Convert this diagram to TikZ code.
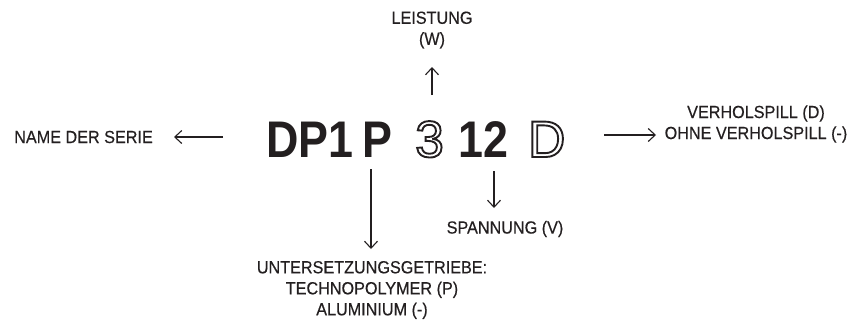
\documentclass[tikz,border=0pt]{standalone}
\usepackage{fontspec}
\setmainfont{Liberation Sans}
\newfontfamily\lblfont[FakeStretch=0.92,FakeBold=0.4]{Liberation Sans}
\newfontfamily\bigfont[FakeStretch=0.87]{Liberation Sans}
\usetikzlibrary{arrows.meta}
\definecolor{ink}{RGB}{35,31,32}
\newcommand{\hollow}[1]{\special{pdf:literal direct 1 Tr 1.9 w}#1\special{pdf:literal direct 0 Tr}}
\tikzset{
  lbl/.style={font=\lblfont\fontsize{17.6}{21}\selectfont, text=ink, inner sep=0pt, align=center},
  big/.style={font=\bigfont\fontsize{51.5}{52}\selectfont\bfseries, text=ink, inner sep=0pt, anchor=base west},
  hol/.style={font=\fontsize{51.5}{52}\selectfont, text=ink, inner sep=0pt, anchor=base west},
  arr/.style={draw=ink, line width=1.1pt, -{Straight Barb[length=7pt,width=13pt,line width=1.1pt]}}
}
\begin{document}
\begin{tikzpicture}[x=1pt,y=-1pt]
\useasboundingbox (0,0) rectangle (853,325);
% main code
\node[big] (dp1) at (266,157) {DP1};
\node[big] (p) at (362,157) {P};
\node[hol] (three) at (415,157) {\hollow{3}};
\node[big] (twelve) at (458,157) {12};
\node[hol] (d) at (528,157) {\hollow{D}};
% labels
\node[lbl] (leist) at (432,30) {LEISTUNG\\(W)};
\node[lbl, anchor=east] (name) at (153,137) {NAME DER SERIE};
\node[lbl] (verh) at (756,124) {VERHOLSPILL (D)\\OHNE VERHOLSPILL (-)};
\node[lbl] (span) at (505,229) {SPANNUNG (V)};
\node[lbl] (unter) at (372,290) {UNTERSETZUNGSGETRIEBE:\\TECHNOPOLYMER (P)\\ALUMINIUM (-)};
% arrow ends
\coordinate (a1s) at (432,95);  \coordinate (a1e) at (432,67);
\coordinate (a2s) at (223,137); \coordinate (a2e) at (174,137);
\coordinate (a3s) at (604,135); \coordinate (a3e) at (656,135);
\coordinate (a4s) at (371,169); \coordinate (a4e) at (371,249);
\coordinate (a5s) at (494,171); \coordinate (a5e) at (494,208);
\draw[arr] (a1s) -- (a1e);
\draw[arr] (a2s) -- (a2e);
\draw[arr] (a3s) -- (a3e);
\draw[arr] (a4s) -- (a4e);
\draw[arr] (a5s) -- (a5e);
\end{tikzpicture}
\end{document}
